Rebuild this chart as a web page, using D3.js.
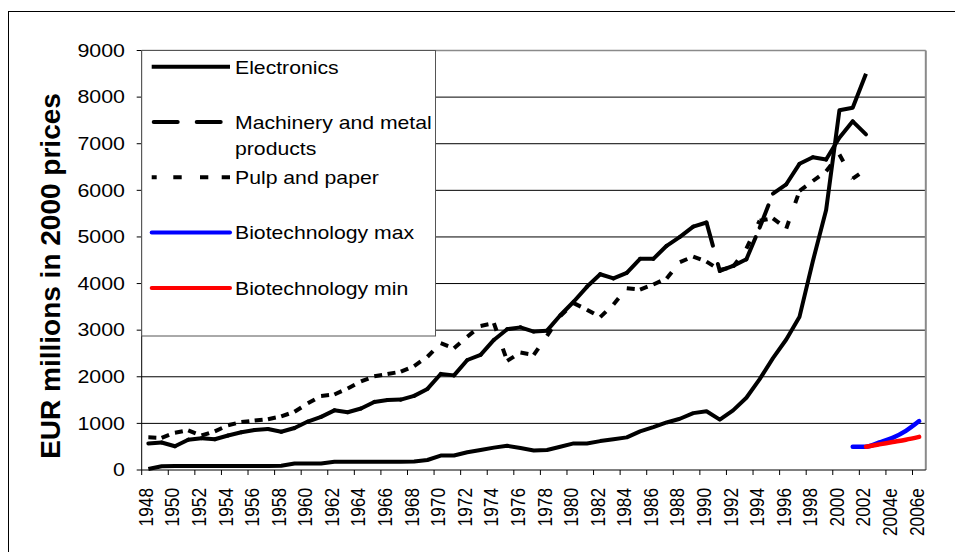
<!DOCTYPE html>
<html><head><meta charset="utf-8">
<script src="https://cdn.jsdelivr.net/npm/d3@7"></script>
<style>
body{margin:0;background:#fff}
svg{display:block}
text{font-family:"Liberation Sans",Arial,sans-serif;fill:#000}
</style>
</head><body>
<svg id="chart" width="955" height="552"></svg>
<script>
// ---------------- DATA ----------------
const categories = [
"1948","1949","1950","1951","1952","1953","1954","1955","1956","1957",
"1958","1959","1960","1961","1962","1963","1964","1965","1966","1967",
"1968","1969","1970","1971","1972","1973","1974","1975","1976","1977",
"1978","1979","1980","1981","1982","1983","1984","1985","1986","1987",
"1988","1989","1990","1991","1992","1993","1994","1995","1996","1997",
"1998","1999","2000","2001","2002","2003e","2004e","2005e","2006e"];

// 1948-2002
const electronics = [
20, 80, 85, 85, 85, 85, 85, 85, 85, 85,
90, 140, 140, 140, 175, 175, 175, 175, 175, 175,
180, 215, 310, 310, 380, 430, 480, 520, 470, 420,
430, 500, 570, 570, 620, 660, 700, 830, 920, 1020,
1100, 1220, 1260, 1080, 1280, 1550, 1950, 2400, 2800, 3290,
4480, 5580, 7720, 7770, 8500];

const machinery = [
570, 590, 510, 650, 680, 660, 740, 810, 860, 880,
820, 900, 1040, 1140, 1280, 1240, 1320, 1460, 1500, 1510,
1590, 1740, 2060, 2030, 2360, 2470, 2790, 3020, 3060, 2970,
2990, 3320, 3610, 3930, 4200, 4110, 4230, 4530, 4530, 4810,
5000, 5220, 5310, 4270, 4380, 4520, 5200, 5930, 6130, 6570,
6710, 6660, 7130, 7480, 7200];

const pulp = [
700, 690, 800, 850, 740, 830, 960, 1030, 1060, 1090,
1150, 1250, 1430, 1590, 1620, 1750, 1900, 2010, 2060, 2110,
2230, 2430, 2720, 2610, 2860, 3090, 3150, 2340, 2520, 2470,
2880, 3300, 3580, 3440, 3280, 3550, 3900, 3870, 3980, 4110,
4460, 4580, 4470, 4290, 4360, 4750, 5350, 5400, 5180, 5990,
6200, 6410, 6770, 6250, 6450];

const bioMaxYears = ["2001","2002","2003e","2004e","2005e","2006e"];
const bioMax = [500, 500, 590, 690, 840, 1050];
const bioMinYears = ["2002","2003e","2004e","2005e","2006e"];
const bioMin = [500, 550, 600, 650, 710];

const yTicks = [0,1000,2000,3000,4000,5000,6000,7000,8000,9000];
const legendLabels = [["Electronics"],["Machinery and metal","products"],["Pulp and paper"],["Biotechnology max"],["Biotechnology min"]];
const yTitle = "EUR millions in 2000 prices";

// ---------------- LAYOUT ----------------
const svg = d3.select("#chart");
const L = 141.7, R = 925.8, T = 50.5, B = 470;

const x = d3.scaleBand().domain(categories).range([L, R]).padding(0);
const xc = c => x(c) + x.bandwidth() / 2;
const y = d3.scaleLinear().domain([0, 9000]).range([B, T]);

// outer frame
svg.append("rect").attr("x", 8.5).attr("y", 11.5).attr("width", 960).attr("height", 600)
  .attr("fill", "#fff").attr("stroke", "#000").attr("stroke-width", 1);

// gridlines
svg.append("g").selectAll("line").data(yTicks.filter(v => v > 0 && v < 9000)).join("line")
  .attr("x1", L).attr("x2", R).attr("y1", d => y(d)).attr("y2", d => y(d))
  .attr("stroke", "#000").attr("stroke-width", 1);

// plot area border (top / right gray)
svg.append("line").attr("x1", L).attr("x2", R).attr("y1", T).attr("y2", T)
  .attr("stroke", "#8a8a8a").attr("stroke-width", 1.5);
svg.append("line").attr("x1", R).attr("x2", R).attr("y1", T).attr("y2", B)
  .attr("stroke", "#8a8a8a").attr("stroke-width", 2);

// axes
svg.append("line").attr("x1", L).attr("x2", L).attr("y1", T).attr("y2", B).attr("stroke", "#000");
svg.append("line").attr("x1", L).attr("x2", R).attr("y1", B).attr("y2", B).attr("stroke", "#000");

// y ticks + labels
svg.append("g").selectAll("line").data(yTicks).join("line")
  .attr("x1", L - 5).attr("x2", L).attr("y1", d => y(d)).attr("y2", d => y(d)).attr("stroke", "#000");
svg.append("g").selectAll("text").data(yTicks).join("text")
  .attr("transform", d => `translate(125,${y(d) + 6.3}) scale(1.21,1)`)
  .attr("text-anchor", "end").style("font-size", "17.7px").text(d => d);

// x ticks (every 2 categories, at boundaries)
const tickCats = categories.filter((c, i) => i % 2 === 0);
svg.append("g").selectAll("line").data(tickCats).join("line")
  .attr("x1", d => x(d)).attr("x2", d => x(d)).attr("y1", B).attr("y2", B + 5).attr("stroke", "#000");
svg.append("g").selectAll("text").data(tickCats).join("text")
  .attr("transform", d => `translate(${xc(d) + 4.5},488) scale(1.2,1) rotate(-90)`)
  .attr("text-anchor", "end").style("font-size", "17.3px").text(d => d);

// y title
svg.append("text").attr("transform", "translate(60,276) rotate(-90)")
  .attr("text-anchor", "middle").style("font-size", "28px").style("font-weight", "bold").text(yTitle);

// ---------------- SERIES ----------------
const line = d3.line().x(d => xc(d.c)).y(d => y(d.v));
const toPts = (vals, cats) => vals.map((v, i) => ({c: cats[i], v}));

// segmented (dash pattern restarts at every vertex, like the original)
function segmented(pts, dash, cap) {
  const segs = d3.pairs(pts);
  svg.append("g").selectAll("path").data(segs).join("path")
    .attr("d", d => line(d)).attr("fill", "none").attr("stroke", "#000")
    .attr("stroke-width", 4).attr("stroke-dasharray", dash).attr("stroke-linecap", cap);
}
segmented(toPts(pulp, categories), "8,19", "butt");
segmented(toPts(machinery, categories), "24,19", "round");

svg.append("path").attr("d", line(toPts(electronics, categories)))
  .attr("fill", "none").attr("stroke", "#000").attr("stroke-width", 4).attr("stroke-linejoin", "round");

const smooth = d3.line().x(d => xc(d.c)).y(d => y(d.v)).curve(d3.curveMonotoneX);
svg.append("path").attr("d", smooth(toPts(bioMax, bioMaxYears)))
  .attr("fill", "none").attr("stroke", "#0000ff").attr("stroke-width", 4.5).attr("stroke-linecap", "round");
svg.append("path").attr("d", smooth(toPts(bioMin, bioMinYears)))
  .attr("fill", "none").attr("stroke", "#ff0000").attr("stroke-width", 4.5).attr("stroke-linecap", "round");

// ---------------- LEGEND ----------------
const lg = svg.append("g");
lg.append("rect").attr("x", L).attr("y", T).attr("width", 435.5 - L).attr("height", 336 - T)
  .attr("fill", "#fff").attr("stroke", "#555").attr("stroke-width", 1);
const legendStyles = [
  {stroke: "#000", dash: null, cap: "butt"},
  {stroke: "#000", dash: "24,19", cap: "round"},
  {stroke: "#000", dash: "5,16.6,8.4,18.3,8.3,13.4,8.3", cap: "butt"},
  {stroke: "#0000ff", dash: null, cap: "round"},
  {stroke: "#ff0000", dash: null, cap: "round"}
];
legendLabels.forEach((lab, i) => {
  const ly = 66.7 + i * 55.3;
  const st = legendStyles[i];
  lg.append("line").attr("x1", i === 1 ? 153.7 : 151.7).attr("x2", 230).attr("y1", ly).attr("y2", ly)
    .attr("stroke", st.stroke).attr("stroke-width", 4)
    .attr("stroke-dasharray", st.dash).attr("stroke-linecap", st.cap);
  lab.forEach((t, j) => {
    lg.append("text").attr("transform", `translate(235,${ly + 6.8 + j * 26}) scale(1.14,1)`)
      .style("font-size", "18.6px").text(t);
  });
});
</script>
</body></html>
